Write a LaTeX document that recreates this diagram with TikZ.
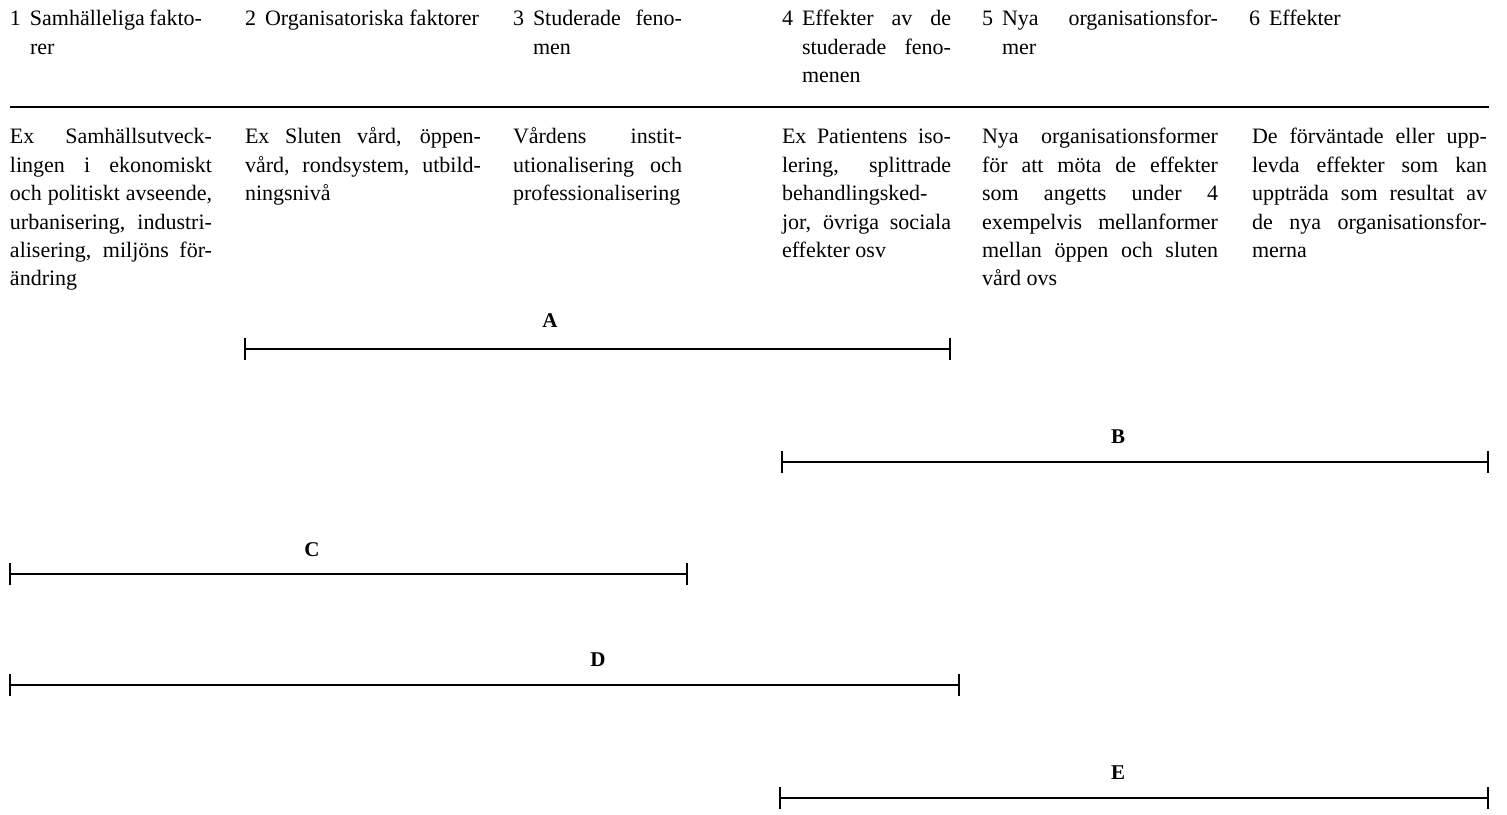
\documentclass[tikz,border=0pt]{standalone}
\usepackage{fontspec}
\setmainfont{Liberation Serif}
\newfontfamily\barfont{Liberation Serif}
\usepackage{xcolor}
\usepackage{tikz}
\usetikzlibrary{arrows.meta}
\hyphenpenalty=10000
\tolerance=10000
\newcommand{\hdnum}[1]{\makebox[10pt][l]{#1}}
\newcommand{\hdhang}{\hangindent=10pt\hangafter=1\relax}
\tikzset{
  coltext/.style={anchor=base west,inner sep=0pt,outer sep=0pt,align=justify,
    font=\fontsize{11}{14.2}\selectfont},
  barlabel/.style={inner sep=0pt,outer sep=0pt,font=\barfont\bfseries\fontsize{10.5}{12}\selectfont},
  spanbar/.style={line width=1.0pt,{Bar[width=11pt,line width=1.0pt]}-{Bar[width=11pt,line width=1.0pt]}}
}
\begin{document}
\begin{tikzpicture}[x=1pt,y=1pt]
\definecolor{fillColor}{RGB}{255,255,255}
\path[use as bounding box,fill=fillColor,fill opacity=0.00] (0,0) rectangle (753.50,407.00);
\begin{scope}
\definecolor{drawColor}{RGB}{0,0,0}

\node[coltext,text=drawColor,text width= 96.00pt] (h1) at (  5.00,394.00) {\hdhang\hdnum{1}Samhälleliga fakto-\linebreak rer\par};

\node[coltext,text=drawColor,text width=118.00pt] (h2) at (122.50,394.00) {\hdnum{2}Organisatoriska faktorer\par};

\node[coltext,text=drawColor,text width= 84.50pt] (h3) at (256.50,394.00) {\hdhang\hdnum{3}Studerade feno-\linebreak men\par};

\node[coltext,text=drawColor,text width= 84.50pt] (h4) at (391.00,394.00) {\hdhang\hdnum{4}Effekter av de\linebreak studerade feno-\linebreak menen\par};

\node[coltext,text=drawColor,text width=118.00pt] (h5) at (491.00,394.00) {\hdhang\hdnum{5}Nya organisationsfor-\linebreak mer\par};

\node[coltext,text=drawColor,text width=117.50pt] (h6) at (624.50,394.00) {\hdnum{6}Effekter\par};

\coordinate (r0) at (  5.00,353.50);
\coordinate (r1) at (744.50,353.50);
\path[draw=drawColor,line width= 0.8pt] (r0) -- (r1);
\end{scope}
\begin{scope}
\definecolor{drawColor}{RGB}{0,0,0}

\node[coltext,text=drawColor,text width=101.00pt] (t1) at (  5.00,335.00) {Ex Samhällsutveck-\linebreak lingen i ekonomiskt\linebreak och politiskt avseende,\linebreak urbanisering, industri-\linebreak alisering, miljöns för-\linebreak ändring\par};

\node[coltext,text=drawColor,text width=118.00pt] (t2) at (122.50,335.00) {Ex Sluten vård, öppen-\linebreak vård, rondsystem, utbild-\linebreak ningsnivå\par};

\node[coltext,text=drawColor,text width= 84.50pt] (t3) at (256.50,335.00) {Vårdens instit-\linebreak utionalisering och\linebreak professionalisering\par};

\node[coltext,text=drawColor,text width= 84.50pt] (t4) at (391.00,335.00) {Ex Patientens iso-\linebreak lering, splittrade\linebreak behandlingsked-\linebreak jor, övriga sociala\linebreak effekter osv\par};

\node[coltext,text=drawColor,text width=118.00pt] (t5) at (491.00,335.00) {Nya organisationsformer\linebreak för att möta de effekter\linebreak som angetts under 4\linebreak exempelvis mellanformer\linebreak mellan öppen och sluten\linebreak vård ovs\par};

\node[coltext,text=drawColor,text width=117.50pt] (t6) at (626.00,335.00) {De förväntade eller upp-\linebreak levda effekter som kan\linebreak uppträda som resultat av\linebreak de nya organisationsfor-\linebreak merna\par};
\end{scope}
\begin{scope}
\definecolor{drawColor}{RGB}{0,0,0}

\node[barlabel,text=drawColor] (lA) at (275.00,246.50) {A};
\coordinate (A0) at (122.00,232.50);
\coordinate (A1) at (475.50,232.50);
\path[draw=drawColor,spanbar] (A0) -- (A1);

\node[barlabel,text=drawColor] (lB) at (559.00,188.50) {B};
\coordinate (B0) at (390.50,176.00);
\coordinate (B1) at (744.50,176.00);
\path[draw=drawColor,spanbar] (B0) -- (B1);

\node[barlabel,text=drawColor] (lC) at (156.00,132.00) {C};
\coordinate (C0) at (  4.50,120.00);
\coordinate (C1) at (344.00,120.00);
\path[draw=drawColor,spanbar] (C0) -- (C1);

\node[barlabel,text=drawColor] (lD) at (299.00, 77.00) {D};
\coordinate (D0) at (  4.50, 64.50);
\coordinate (D1) at (480.00, 64.50);
\path[draw=drawColor,spanbar] (D0) -- (D1);

\node[barlabel,text=drawColor] (lE) at (559.00, 20.50) {E};
\coordinate (E0) at (389.50,  8.00);
\coordinate (E1) at (744.50,  8.00);
\path[draw=drawColor,spanbar] (E0) -- (E1);
\end{scope}
\end{tikzpicture}
\end{document}
